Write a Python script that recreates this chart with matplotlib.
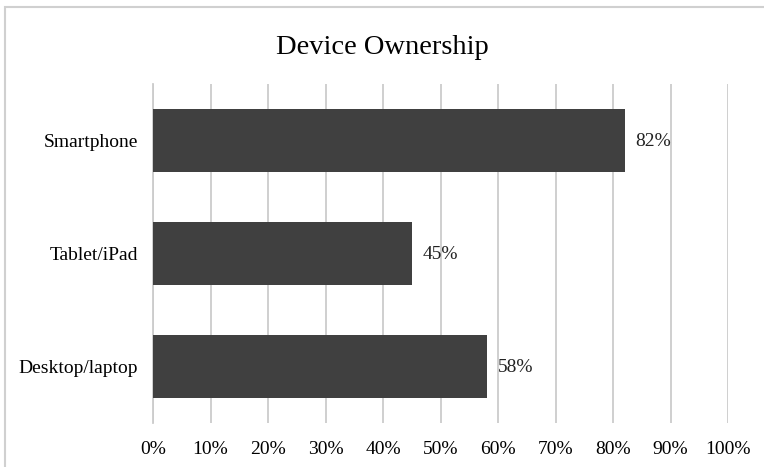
import matplotlib
matplotlib.use("Agg")
import matplotlib.pyplot as plt
from matplotlib.patches import Rectangle

# Données
categories = ['Smartphone', 'Tablet/iPad', 'Desktop/laptop']
values = [82, 45, 58]
xticks = [0, 10, 20, 30, 40, 50, 60, 70, 80, 90, 100]

plt.rcParams['font.family'] = ['Liberation Serif', 'DejaVu Serif']

fig = plt.figure(figsize=(7.64, 4.67), dpi=100)
ax = fig.add_axes([153 / 764, 1 - 423 / 467, 575 / 764, 339 / 467])

ypos = list(range(len(categories)))
ax.barh(ypos, values, height=0.565, color='#404040', zorder=3)
ax.set_ylim(len(categories) - 0.5, -0.5)
ax.set_xlim(0, 100)

ax.set_yticks(ypos)
ax.set_yticklabels(categories, fontsize=14)
ax.set_xticks(xticks)
ax.set_xticklabels([f'{t}%' for t in xticks], fontsize=14)
ax.tick_params(axis='both', length=0)
ax.tick_params(axis='x', pad=13)
ax.tick_params(axis='y', pad=11)

ax.grid(axis='x', color='#cccccc', linewidth=1.3, zorder=0)
for s in ['top', 'right', 'bottom']:
    ax.spines[s].set_visible(False)
ax.spines['left'].set_color('#cccccc')
ax.spines['left'].set_linewidth(1.3)

# Étiquettes de données
for y, v in zip(ypos, values):
    ax.annotate(f'{v}%', (v, y), xytext=(8, -1), textcoords='offset points',
                ha='left', va='center', fontsize=14, color='#222222')

fig.text(0.5, 1 - 47 / 467, 'Device Ownership', ha='center', va='center', fontsize=20.5)

# Cadre du graphique
fig.patches.append(Rectangle((5 / 764, -0.1), 1.2, 1 - 7 / 467 + 0.1,
                             transform=fig.transFigure, fill=False,
                             edgecolor='#d0d0d0', linewidth=1.5))

fig.savefig('out.png', dpi=100)
